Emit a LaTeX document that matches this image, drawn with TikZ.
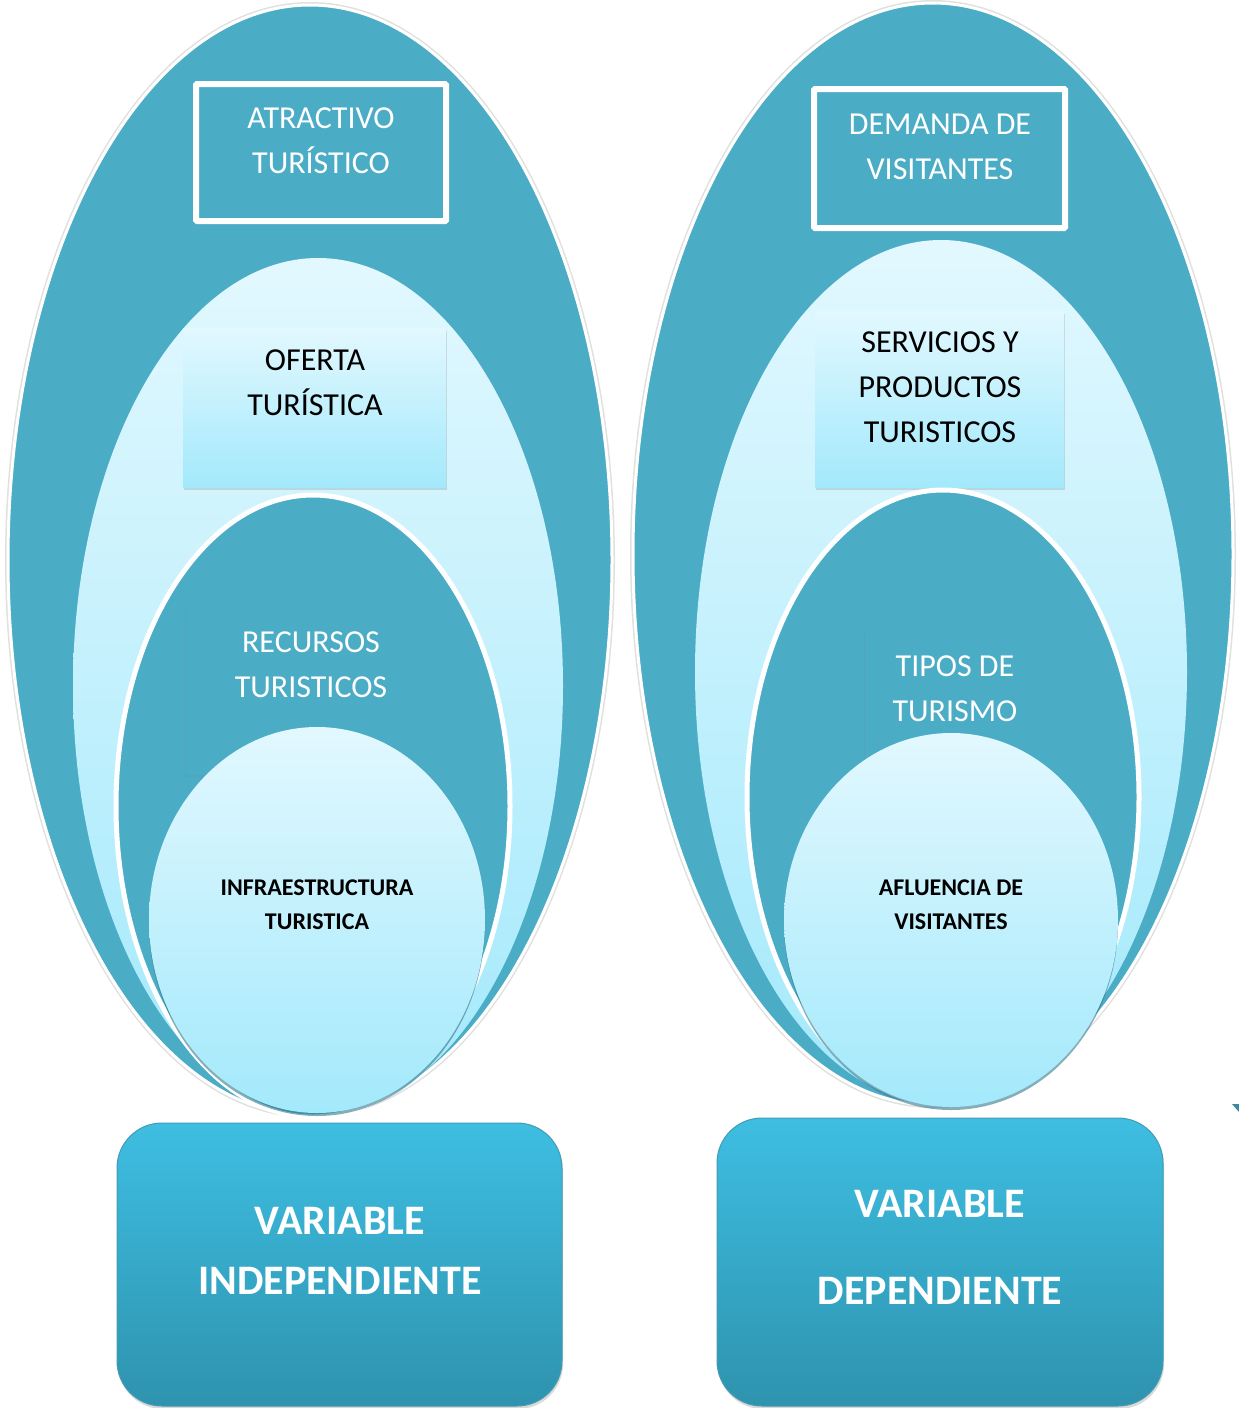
\documentclass[tikz,border=0pt]{standalone}
\usepackage{fontspec}
\setmainfont{Carlito}
\usetikzlibrary{shadows, positioning}
\definecolor{turqoscuro}{HTML}{4BACC6}
\definecolor{celesteclaro}{HTML}{E2F8FE}
\definecolor{celestemedio}{HTML}{A3E9FC}
\definecolor{varalto}{HTML}{3EBEE2}
\definecolor{varbajo}{HTML}{2E93AE}
\tikzset{
  marco/.style={rectangle, inner sep=0pt, fill=turqoscuro, draw=white, line width=6pt, rounded corners=1pt,
    drop shadow={shadow xshift=2pt, shadow yshift=-3pt, opacity=0.3}},
  cajaclara/.style={rectangle, inner sep=0pt, top color=celesteclaro, bottom color=celestemedio,
    drop shadow={shadow xshift=1pt, shadow yshift=-3pt, opacity=0.25}},
  cajaplana/.style={rectangle, inner sep=0pt, fill=turqoscuro,
    drop shadow={shadow xshift=-1pt, shadow yshift=-2pt, opacity=0.15}},
  cajavar/.style={rectangle, inner sep=0pt, rounded corners=45pt, top color=varalto, bottom color=varbajo,
    draw=turqoscuro!90!black, line width=1pt,
    drop shadow={shadow xshift=1pt, shadow yshift=-3pt, opacity=0.3}},
  textoblanco/.style={text=white, align=center, font=\fontsize{32}{45}\selectfont},
  textonegro/.style={text=black, align=center, font=\fontsize{32}{45}\selectfont},
  textonegrita/.style={text=black, align=center, font=\bfseries\fontsize{24}{34}\selectfont},
  textovar/.style={text=white, align=center, font=\bfseries\fontsize{42}{60}\selectfont},
}
\begin{document}
\begin{tikzpicture}[x=1pt, y=-1pt]
  \useasboundingbox (0,0) rectangle (1239,1408);

  % Columna izquierda
  \draw[black!12, line width=6pt] (310,560) ellipse [x radius=302, y radius=555];
  \filldraw[fill=turqoscuro, draw=white, line width=3pt] (310,560) ellipse [x radius=302, y radius=555];
  \node[marco, minimum width=250pt, minimum height=137pt] (atr) at (321,152.5) {};
  \shade[top color=celesteclaro, bottom color=celestemedio] (318,686) ellipse [x radius=245, y radius=428];
  \node[cajaclara, minimum width=263pt, minimum height=159pt] (ofe) at (314.5,407.5) {};
  \filldraw[fill=turqoscuro, draw=white, line width=5pt] (313,806) ellipse [x radius=197, y radius=311];
  \node[cajaplana, minimum width=249pt, minimum height=167pt] (rec) at (310.5,691.5) {};
  \shade[top color=celesteclaro, bottom color=celestemedio,
    drop shadow={shadow xshift=0pt, shadow yshift=-3pt, fill=turqoscuro!70!black, opacity=0.6}]
    (317,920) ellipse [x radius=168, y radius=193];

  \node[textoblanco] (tatr) at (321,140.5) {ATRACTIVO\\TURÍSTICO};
  \node[textonegro] (tofe) at (315,382.5) {OFERTA\\TURÍSTICA};
  \node[textoblanco] (trec) at (311,664.5) {RECURSOS\\TURISTICOS};
  \node[textonegrita] (tinf) at (317,905) {INFRAESTRUCTURA\\TURISTICA};

  \node[cajavar, minimum width=445pt, minimum height=283pt] (vind) at (339.5,1264.5) {};
  \node[textovar] (tvind) at (340,1251) {VARIABLE\\INDEPENDIENTE};

  % Columna derecha
  \draw[black!12, line width=6pt] (933,554) ellipse [x radius=300, y radius=551];
  \filldraw[fill=turqoscuro, draw=white, line width=3pt] (933,554) ellipse [x radius=300, y radius=551];
  \node[marco, minimum width=251pt, minimum height=139pt] (dem) at (939.5,158.5) {};
  \shade[top color=celesteclaro, bottom color=celestemedio] (941,672) ellipse [x radius=246, y radius=432];
  \node[cajaclara, minimum width=249pt, minimum height=176pt] (ser) at (939.5,399) {};
  \filldraw[fill=turqoscuro, draw=white, line width=5pt] (943,797) ellipse [x radius=196, y radius=307];
  \node[cajaplana, minimum width=179pt, minimum height=142pt] (tip) at (954.5,699) {};
  \shade[top color=celesteclaro, bottom color=celestemedio,
    drop shadow={shadow xshift=0pt, shadow yshift=-3pt, fill=turqoscuro!70!black, opacity=0.6}]
    (951,920) ellipse [x radius=167, y radius=187];

  \node[textoblanco] (tdem) at (940,147) {DEMANDA DE\\VISITANTES};
  \node[textonegro] (tser) at (940,387) {SERVICIOS Y\\PRODUCTOS\\TURISTICOS};
  \node[textoblanco] (ttip) at (955,688.5) {TIPOS DE\\TURISMO};
  \node[textonegrita] (tafl) at (951,904.5) {AFLUENCIA DE\\VISITANTES};

  \node[cajavar, minimum width=446pt, minimum height=288pt] (vdep) at (940,1262) {};
  \node[textovar, font=\bfseries\fontsize{42}{87}\selectfont] (tvdep) at (940,1247.5) {VARIABLE\\DEPENDIENTE};

  % marca suelta
  \fill[turqoscuro!80!black] (1232,1104) -- (1239,1104) -- (1239,1112) -- cycle;
\end{tikzpicture}
\end{document}
